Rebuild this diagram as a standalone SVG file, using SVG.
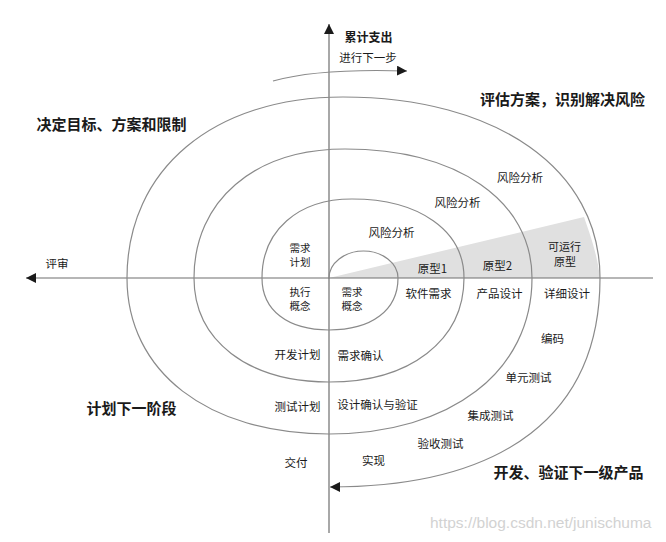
<svg xmlns="http://www.w3.org/2000/svg" width="666" height="542" viewBox="0 0 666 542">
<style>
text{font-family:"Noto Sans CJK SC","Liberation Sans",sans-serif;fill:#1a1a1a;dominant-baseline:central;text-anchor:middle}
.s{font-size:11.5px}
.t{font-size:10.5px}
.b{font-size:15px;font-weight:bold}
.spiral{fill:none;stroke:#8a8a8a;stroke-width:1.2}
.axis{fill:none;stroke:#6e6e6e;stroke-width:1.2}
</style>
<defs>
<marker id="arr" markerUnits="userSpaceOnUse" markerWidth="10" markerHeight="10" refX="10" refY="5" orient="auto">
<path d="M0,0 L10,5 L0,10 z" fill="#1a1a1a"/>
</marker>
</defs>
<rect width="666" height="542" fill="#ffffff"/>
<g id="wedge">
<path d="M329,278 L584,217 C589,232 597,252 600,278 Z" fill="#e0e0e0"/>
</g>
<g id="connectors">
<line class="axis" x1="329" y1="533" x2="329" y2="24" marker-end="url(#arr)"/>
<line class="axis" x1="653" y1="278" x2="26" y2="278" marker-end="url(#arr)"/>
<path class="spiral" d="M329,278 C329,263.15 344.5,251 363.5,251 C382.5,251 398,263.15 398,278
C398,310.2 371.8,330 329,330 C287.5,330 262,310.2 262,278
C262,230.6 298,199 352,199 C419.2,199 464,230.6 464,278
C464,340.4 410,382 329,382 C248,382 194,340.4 194,278
C194,200.6 254.4,149 345,149 C457.2,149 532,200.6 532,278
C532,371.6 450.8,434 329,434 C207.8,434 127,371.6 127,278
C127,169.4 213.4,97 343,97 C497.2,97 600,169.4 600,278"/>
<path class="spiral" d="M600,278 C600,413.9 505,487 330,487" marker-end="url(#arr)"/>
<path class="spiral" d="M273,81 C305,72 345,69 407,71" marker-end="url(#arr)"/>
</g>
<g id="axis-labels">
<text x="368.5" y="36" style="font-size:12px;font-weight:bold">累计支出</text>
<text x="368" y="57" class="s">进行下一步</text>
<text x="57" y="263" class="s">评审</text>
</g>
<g id="quadrant-labels">
<text x="111.5" y="123" class="b">决定目标、方案和限制</text>
<text x="562.5" y="98" class="b">评估方案，识别解决风险</text>
<text x="131.5" y="407" class="b">计划下一阶段</text>
<text x="568.5" y="471" class="b">开发、验证下一级产品</text>
</g>
<g id="risk-labels">
<text x="391.5" y="232" class="s">风险分析</text>
<text x="457.5" y="202" class="s">风险分析</text>
<text x="520" y="177" class="s">风险分析</text>
</g>
<g id="prototype-labels">
<text x="432.5" y="268" class="s">原型1</text>
<text x="497.5" y="265" class="s">原型2</text>
<text style="font-size:11px"><tspan x="564.5" y="246">可运行</tspan><tspan x="565" y="260.5">原型</tspan></text>
</g>
<g id="plan-labels">
<text class="t"><tspan x="300" y="247">需求</tspan><tspan x="300" y="260.5">计划</tspan></text>
<text class="t"><tspan x="300" y="291">执行</tspan><tspan x="300" y="304.5">概念</tspan></text>
<text x="297.5" y="354" class="s">开发计划</text>
<text x="297.5" y="406" class="s">测试计划</text>
<text x="296" y="462" class="s">交付</text>
</g>
<g id="dev-labels">
<text class="t"><tspan x="352" y="291">需求</tspan><tspan x="352" y="304.5">概念</tspan></text>
<text x="428.5" y="293" class="s">软件需求</text>
<text x="499.5" y="293" class="s">产品设计</text>
<text x="567" y="293" class="s">详细设计</text>
<text x="360.5" y="355" class="s">需求确认</text>
<text x="377.5" y="404" class="s">设计确认与验证</text>
<text x="552.5" y="338" class="s">编码</text>
<text x="528.5" y="377" class="s">单元测试</text>
<text x="490.5" y="415" class="s">集成测试</text>
<text x="440.5" y="443" class="s">验收测试</text>
<text x="373.5" y="460" class="s">实现</text>
</g>
<g id="watermark">
<text x="430" y="522" style="font-family:'Liberation Sans',sans-serif;font-size:15.5px;fill:#d2d2d2;text-anchor:start">https://blog.csdn.net/junischuma</text>
</g>
</svg>
